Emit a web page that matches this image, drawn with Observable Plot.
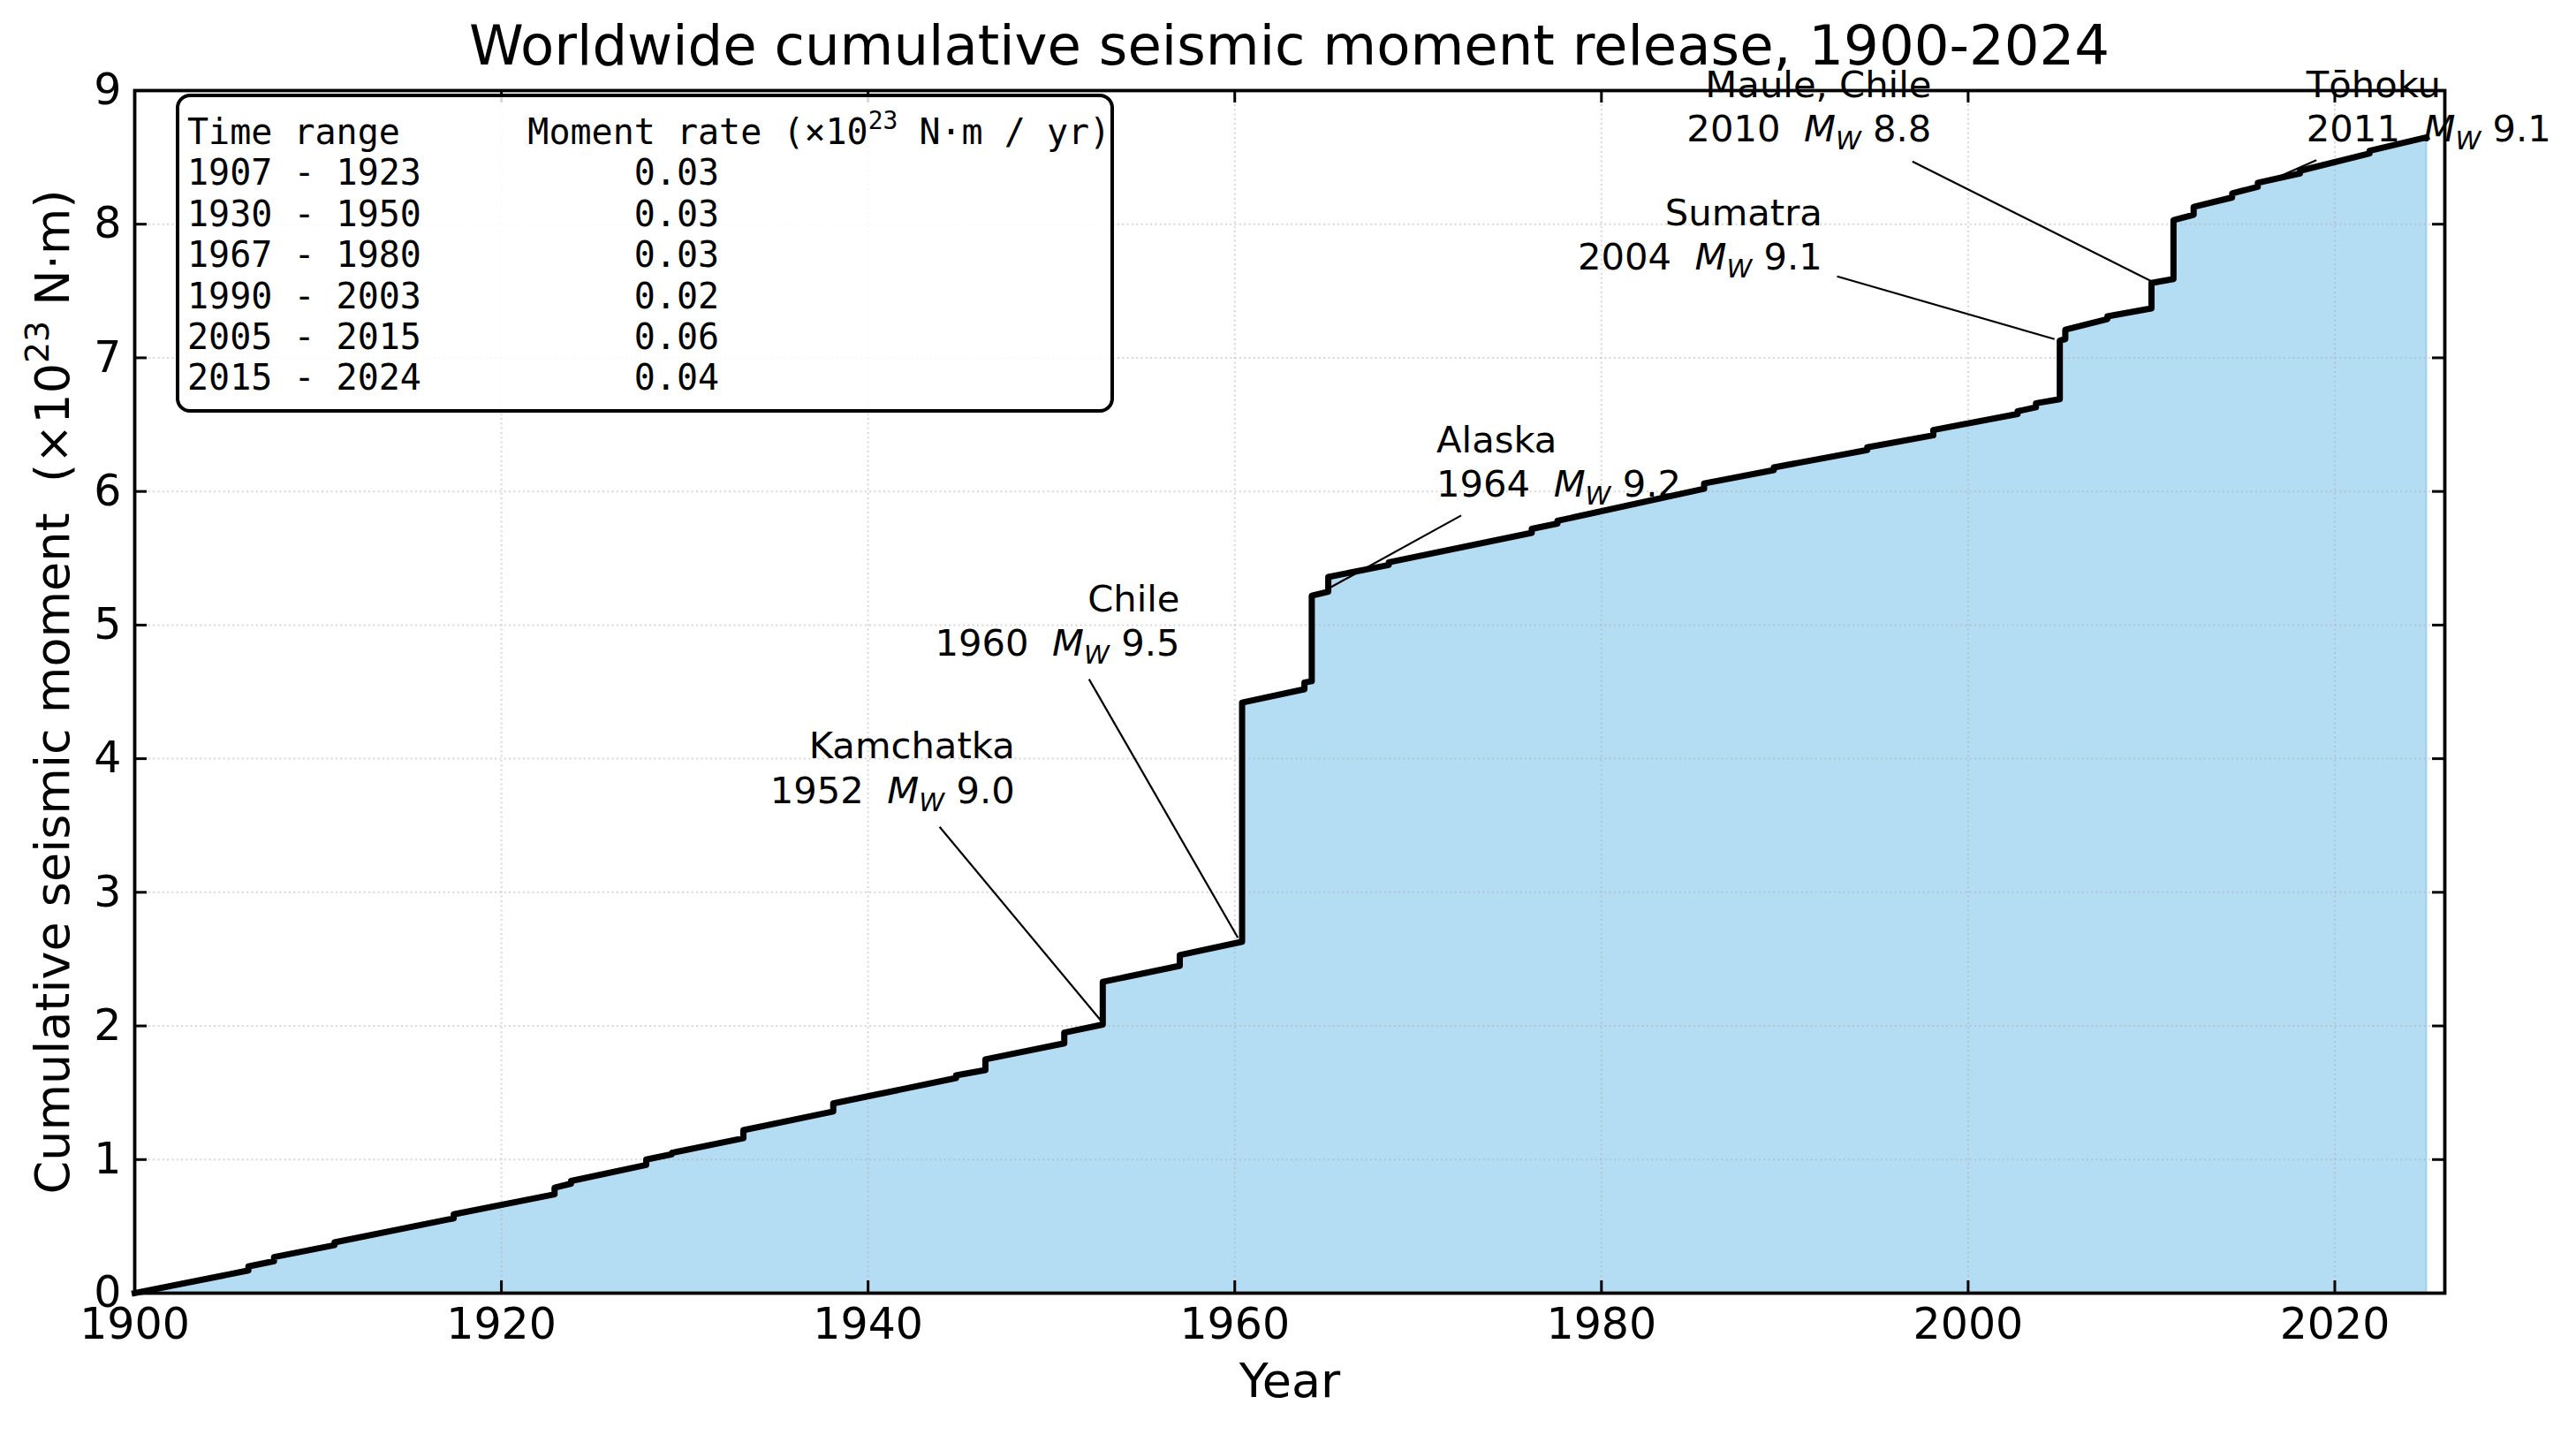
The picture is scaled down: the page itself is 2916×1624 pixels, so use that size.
<!DOCTYPE html>
<html><head><meta charset="utf-8">
<script src="https://cdn.jsdelivr.net/npm/d3@7"></script>
<script src="https://cdn.jsdelivr.net/npm/@observablehq/plot@0.6"></script>
<style>
html,body{margin:0;padding:0;background:#fff;}
#wrap{position:relative;width:2916px;height:1624px;font-family:"DejaVu Sans";color:#000;}
#title{position:relative;left:152px;width:2615px;height:80px;box-sizing:border-box;padding-top:21px;font-size:62.5px;line-height:62.5px;text-align:center;white-space:nowrap;}
#legend{position:absolute;left:199px;top:106px;width:1062px;height:361px;box-sizing:border-box;border:4px solid #000;border-radius:16px;background:rgba(255,255,255,0.85);padding:16px 0 0 9px;font-family:"DejaVu Sans Mono";font-size:40px;line-height:46.4px;white-space:pre;}
#legend sup{font-size:70%;vertical-align:baseline;position:relative;top:-0.6em;line-height:0;}
svg text{white-space:pre;}
</style>
</head><body>
<div id="wrap"><div id="title"></div></div>
<script>
// ---- data ----
const titleText = "Worldwide cumulative seismic moment release, 1900-2024";
const xLabel = "Year";
const yLabel = "Cumulative seismic moment  (×10^23 N·m)";
const xTicks = [1900, 1920, 1940, 1960, 1980, 2000, 2020];
const yTicks = [0, 1, 2, 3, 4, 5, 6, 7, 8, 9];

const years = [
  1900,
  1906.2, 1906.2, 1907.6, 1907.6, 1910.9, 1910.9, 1917.4, 1917.4,
  1922.9, 1922.9, 1923.8, 1923.8, 1927.9, 1927.9, 1929.3, 1929.3,
  1933.2, 1933.2, 1938.1, 1938.1, 1944.8, 1944.8, 1946.4, 1946.4,
  1950.7, 1950.7, 1952.8, 1952.8, 1957.0, 1957.0, 1960.4, 1960.4,
  1963.8, 1963.8, 1964.2, 1964.2, 1965.1, 1965.1, 1968.4, 1968.4,
  1976.2, 1976.2, 1977.6, 1977.6, 1985.6, 1985.6, 1989.4, 1989.4,
  1994.5, 1994.5, 1998.1, 1998.1, 2002.7, 2002.7, 2003.7, 2003.7,
  2005.0, 2005.0, 2005.3, 2005.3, 2007.6, 2007.6, 2010.0, 2010.0,
  2011.2, 2011.2, 2012.3, 2012.3, 2014.4, 2014.4, 2015.8, 2015.8,
  2018.1, 2018.1, 2021.9, 2021.9,
  2025.0
];
const moments = [
  0,
  0.17, 0.20, 0.24, 0.27, 0.36, 0.38, 0.56, 0.59,
  0.74, 0.79, 0.82, 0.84, 0.96, 1.00, 1.04, 1.05,
  1.16, 1.22, 1.36, 1.42, 1.61, 1.63, 1.67, 1.75,
  1.87, 1.95, 2.01, 2.33, 2.45, 2.53, 2.63, 4.42,
  4.52, 4.57, 4.58, 5.22, 5.25, 5.36, 5.45, 5.47,
  5.69, 5.72, 5.76, 5.78, 6.02, 6.06, 6.16, 6.18,
  6.31, 6.33, 6.42, 6.46, 6.58, 6.60, 6.63, 6.66,
  6.69, 7.13, 7.14, 7.21, 7.29, 7.31, 7.37, 7.56,
  7.59, 8.03, 8.07, 8.13, 8.20, 8.23, 8.28, 8.31,
  8.38, 8.40, 8.53, 8.55,
  8.65
];

// annotations
const annLabels = ["Kamchatka\n1952  M_W 9.0", "Chile\n1960  M_W 9.5", "Alaska\n1964  M_W 9.2",
                   "Sumatra\n2004  M_W 9.1", "Maule, Chile\n2010  M_W 8.8", "Tōhoku\n2011  M_W 9.1"];
const annAlign = ["end", "end", "start", "end", "end", "start"];
const annTextYear = [1948.0, 1957.0, 1971.0, 1992.05, 1998.0, 2018.45];
const annTextMoment = [3.67, 4.77, 5.96, 7.66, 8.62, 8.62];
const annLineYear1 = [1943.9, 1952.05, 1972.35, 1992.85, 1996.96, 2019.0];
const annLineMoment1 = [3.49, 4.595, 5.82, 7.61, 8.47, 8.48];
const annLineYear2 = [1952.7, 1960.17, 1965.2, 2004.71, 2010.04, 2016.7];
const annLineMoment2 = [2.04, 2.66, 5.28, 7.14, 7.57, 8.34];

// legend table
const legendHead1 = "Time range";
const legendHead2 = "Moment rate (×10^23 N·m / yr)";
const rangeLabels = ["1907 - 1923", "1930 - 1950", "1967 - 1980", "1990 - 2003", "2005 - 2015", "2015 - 2024"];
const rates = [0.03, 0.03, 0.03, 0.02, 0.06, 0.04];

// ---- build ----
const series = years.map((y, i) => ({year: y, moment: moments[i]}));
const ann = annLabels.map((t, i) => ({
  text: t, align: annAlign[i], tx: annTextYear[i], ty: annTextMoment[i],
  x1: annLineYear1[i], y1: annLineMoment1[i], x2: annLineYear2[i], y2: annLineMoment2[i]
}));

const W = 2916, H = 1544;
const mT = 22, mB = 161, mL = 152, mR = 149;
const innerW = W - mL - mR, innerH = H - mT - mB;
const tick = 14;
const tickFont = 49;
const labelFont = 54;
const annFont = 41.7;

const plot = Plot.plot({
  width: W, height: H,
  marginTop: mT, marginBottom: mB, marginLeft: mL, marginRight: mR,
  style: {fontFamily: "DejaVu Sans", fontSize: tickFont + "px", color: "black", background: "white", overflow: "visible"},
  x: {domain: [1900, 2026]},
  y: {domain: [0, 9]},
  marks: [
    Plot.area(series, {x1: "year", y1: 0, y2: "moment", fill: "#b4dcf2", stroke: "#a3d3f0", strokeWidth: 2.5}),
    Plot.gridX({ticks: xTicks, stroke: "#b0b0b0", strokeOpacity: 0.5, strokeWidth: 2, strokeDasharray: "2,3.3"}),
    Plot.gridY({ticks: yTicks, stroke: "#b0b0b0", strokeOpacity: 0.5, strokeWidth: 2, strokeDasharray: "2,3.3"}),
    Plot.line(series, {x: "year", y: "moment", stroke: "black", strokeWidth: 7, strokeLinejoin: "round", strokeLinecap: "square"}),
    Plot.link(ann, {x1: "x1", y1: "y1", x2: "x2", y2: "y2", stroke: "black", strokeWidth: 2.2}),
    Plot.text(ann.filter(d => d.align === "end"), {x: "tx", y: "ty", text: "text", textAnchor: "end", lineAnchor: "bottom", lineHeight: 1.2, fontSize: annFont, fill: "black"}),
    Plot.text(ann.filter(d => d.align === "start"), {x: "tx", y: "ty", text: "text", textAnchor: "start", lineAnchor: "bottom", lineHeight: 1.2, fontSize: annFont, fill: "black"}),
    Plot.tickX(xTicks, {x: d => d, insetTop: innerH - tick, stroke: "black", strokeWidth: 3}),
    Plot.tickX(xTicks, {x: d => d, insetBottom: innerH - tick, stroke: "black", strokeWidth: 3}),
    Plot.tickY(yTicks, {y: d => d, insetRight: innerW - tick, stroke: "black", strokeWidth: 3}),
    Plot.tickY(yTicks, {y: d => d, insetLeft: innerW - tick, stroke: "black", strokeWidth: 3}),
    Plot.axisX({ticks: xTicks, tickSize: 0, tickPadding: 17, fontSize: tickFont, label: null, tickFormat: d => String(d)}),
    Plot.axisY({ticks: yTicks, tickSize: 0, tickPadding: 15, fontSize: tickFont, label: null, tickFormat: d => String(d)}),
    Plot.frame({stroke: "black", strokeWidth: 3.8}),
    Plot.text([xLabel], {frameAnchor: "bottom", dy: 117, lineAnchor: "bottom", fontSize: labelFont, fill: "black"}),
    Plot.text([yLabel], {frameAnchor: "left", dx: -75, rotate: -90, lineAnchor: "bottom", textAnchor: "middle", fontSize: labelFont, fill: "black"})
  ]
});

// rich text: italic M with subscript W, superscript 23
const NS = "http://www.w3.org/2000/svg";
function richify(svg) {
  const els = [...svg.querySelectorAll("text, tspan")].filter(e => e.children.length === 0 && /M_W|\^23/.test(e.textContent));
  for (const el of els) {
    const s = el.textContent;
    const fs = parseFloat(getComputedStyle(el).fontSize) || annFont;
    el.textContent = "";
    let pending = 0;
    const mk = (txt, attrs) => {
      const t = document.createElementNS(NS, "tspan");
      for (const k in attrs) t.setAttribute(k, attrs[k]);
      t.textContent = txt;
      el.appendChild(t);
      return t;
    };
    for (const p of s.split(/(M_W|\^23)/)) {
      if (!p) continue;
      if (p === "M_W") {
        const a = {"font-style": "italic"};
        if (pending) { a.dy = pending; pending = 0; }
        mk("M", a);
        const sh = 0.22 * fs;
        mk("W", {"font-style": "italic", "font-size": (0.7 * fs) + "px", dy: sh});
        pending = -sh;
      } else if (p === "^23") {
        const sh = -0.42 * fs;
        mk("23", {"font-size": (0.7 * fs) + "px", dy: sh + pending});
        pending = -sh;
      } else {
        const a = {};
        if (pending) { a.dy = pending; pending = 0; }
        mk(p, a);
      }
    }
  }
}

const wrap = document.getElementById("wrap");
document.getElementById("title").textContent = titleText;
wrap.appendChild(plot);
richify(plot);

// legend box
const lg = document.createElement("div");
lg.id = "legend";
const esc = s => s.replace(/&/g, "&amp;").replace(/</g, "&lt;");
const sup = s => esc(s).replace("^23", "<sup>23</sup>");
let html = esc(legendHead1.padEnd(16)) + sup(legendHead2);
rangeLabels.forEach((r, i) => { html += "\n" + esc(r.padEnd(21)) + rates[i].toFixed(2); });
lg.innerHTML = html;
wrap.appendChild(lg);
</script>
</body></html>
